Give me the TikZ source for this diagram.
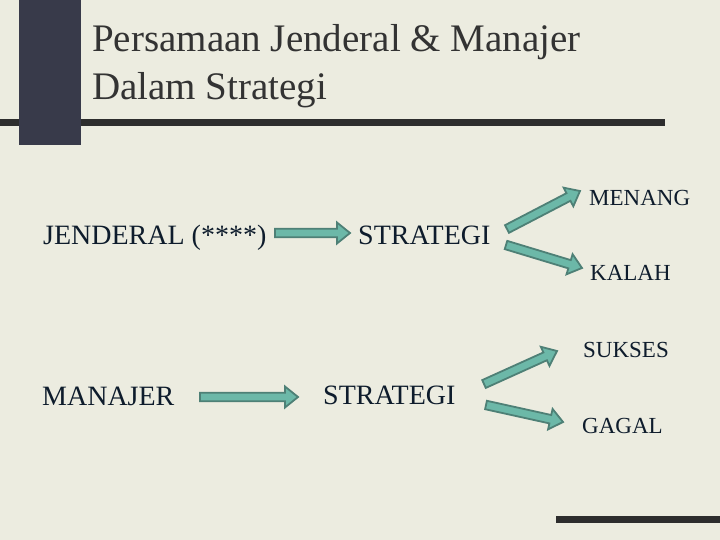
\documentclass[tikz,border=0pt]{standalone}
\usepackage{fontspec}
\setmainfont{Liberation Serif}
\usetikzlibrary{calc}
\definecolor{bgc}{RGB}{236,236,224}
\definecolor{sqc}{RGB}{56,58,74}
\definecolor{barc}{RGB}{45,45,45}
\definecolor{titc}{RGB}{51,51,51}
\definecolor{txtc}{RGB}{14,28,44}
\definecolor{arrfill}{RGB}{108,184,168}
\definecolor{arrline}{RGB}{78,128,118}
\tikzset{
  ttl/.style={anchor=base west, inner sep=0pt, text=titc, font=\fontsize{39}{39}\selectfont},
  lbl/.style={anchor=base west, inner sep=0pt, text=txtc, font=\fontsize{28}{28}\selectfont},
  slbl/.style={anchor=base west, inner sep=0pt, text=txtc, font=\fontsize{23}{23}\selectfont},
  barr/.style={fill=arrfill, draw=arrline, line width=1.8pt, line join=miter},
}
\newcommand\blockarrow[2]{%
  \coordinate (hb) at ($(#2)!13pt!(#1)$);
  \draw[barr] ($(#1)!4.3pt!90:(#2)$) -- ($(hb)!4.3pt!-90:(#1)$) -- ($(hb)!10.5pt!-90:(#1)$) -- (#2)
    -- ($(hb)!10.5pt!90:(#1)$) -- ($(hb)!4.3pt!90:(#1)$) -- ($(#1)!4.3pt!-90:(#2)$) -- cycle;}
\begin{document}
\begin{tikzpicture}[x=1pt,y=-1pt]
\fill[bgc] (0,0) rectangle (720,540);
\useasboundingbox (0,0) rectangle (720,540);
% decoration
\fill[barc] (0,119) rectangle (665,126);
\fill[sqc] (19,0) rectangle (81,145);
\fill[barc] (556,516) rectangle (720,523);
% title
\node[ttl] (t1) at (92,52) {Persamaan Jenderal \& Manajer};
\node[ttl] (t2) at (92,100) {Dalam Strategi};
% row 1
\node[lbl] (jen) at (43,244) {JENDERAL (****)};
\node[lbl] (str1) at (358,244) {STRATEGI};
\node[slbl] (men) at (589,206) {MENANG};
\node[slbl] (kal) at (590,280) {KALAH};
% row 2
\node[lbl] (man) at (42,405) {MANAJER};
\node[lbl] (str2) at (323,404) {STRATEGI};
\node[slbl] (suk) at (583,357) {SUKSES};
\node[slbl] (gag) at (582,433) {GAGAL};
% arrow end points
\coordinate (a1s) at (275,233); \coordinate (a1e) at (350,233);
\coordinate (a2s) at (507,229); \coordinate (a2e) at (580,191);
\coordinate (a3s) at (506,245); \coordinate (a3e) at (582,268);
\coordinate (b1s) at (200,397); \coordinate (b1e) at (298,397);
\coordinate (b2s) at (484,384); \coordinate (b2e) at (557,351);
\coordinate (b3s) at (486,405); \coordinate (b3e) at (563,422);
\blockarrow{a1s}{a1e}
\blockarrow{a2s}{a2e}
\blockarrow{a3s}{a3e}
\blockarrow{b1s}{b1e}
\blockarrow{b2s}{b2e}
\blockarrow{b3s}{b3e}
\end{tikzpicture}
\end{document}
